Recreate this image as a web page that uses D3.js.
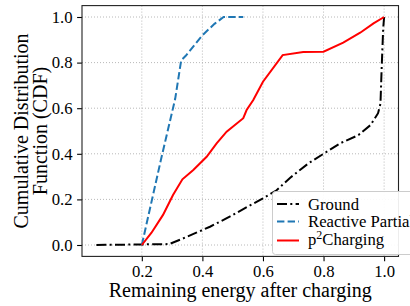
<!DOCTYPE html>
<html>
<head>
<meta charset="utf-8">
<script src="https://cdn.jsdelivr.net/npm/d3@7"></script>
<style>
html,body{margin:0;padding:0;background:#fff;}
svg{display:block;font-family:"Liberation Serif",serif;}
svg text{font-family:"Liberation Serif",serif !important;fill:#000;}
</style>
</head>
<body>
<svg id="chart" width="410" height="306"></svg>
<script>
// ---- data ----
const xTicks = [0.2, 0.4, 0.6, 0.8, 1.0];
const yTicks = [0.0, 0.2, 0.4, 0.6, 0.8, 1.0];
const seriesNames = ["Ground", "Reactive Partial", "p²Charging"];

const groundX = [0.05,0.29,0.33,0.38,0.425,0.49,0.545,0.60,0.645,0.69,0.75,0.80,0.855,0.915,0.955,0.98,0.988,0.992,0.997,1.0];
const groundY = [0.0,0.004,0.025,0.054,0.08,0.124,0.165,0.205,0.24,0.295,0.358,0.40,0.446,0.482,0.526,0.578,0.62,0.78,0.95,1.0];

const reactiveX = [0.2,0.265,0.31,0.33,0.345,0.40,0.44,0.47,0.535];
const reactiveY = [0.0,0.385,0.64,0.81,0.83,0.92,0.97,1.0,1.0];

const p2X = [0.2,0.232,0.27,0.303,0.334,0.37,0.414,0.447,0.48,0.535,0.546,0.568,0.60,0.665,0.733,0.80,0.865,0.921,0.965,1.0];
const p2Y = [0.0,0.054,0.132,0.219,0.288,0.329,0.387,0.446,0.497,0.556,0.592,0.636,0.716,0.833,0.846,0.848,0.888,0.931,0.972,1.0];

// ---- layout ----
const svg = d3.select("#chart");
const pLeft = 82, pRight = 398.5, pTop = 5.6, pBottom = 256.4;
const x = d3.scaleLinear().domain([0.0025, 1.0475]).range([pLeft, pRight]);
const y = d3.scaleLinear().domain([-0.05, 1.05]).range([pBottom, pTop]);
const SERIF = "Liberation Serif, serif";

// grid
const grid = svg.append("g");
grid.selectAll("line.vx").data(xTicks).join("line")
  .attr("x1", d => x(d)).attr("x2", d => x(d)).attr("y1", pTop).attr("y2", pBottom)
  .attr("stroke", "#b0b0b0").attr("stroke-width", 0.9).attr("stroke-dasharray", "1,2");
grid.selectAll("line.hy").data(yTicks).join("line")
  .attr("y1", d => y(d)).attr("y2", d => y(d)).attr("x1", pLeft).attr("x2", pRight)
  .attr("stroke", "#b0b0b0").attr("stroke-width", 0.9).attr("stroke-dasharray", "1,2");

// lines
const mk = (xs, ys) => xs.map((v, i) => [v, ys[i]]);
const line = d3.line().x(d => x(d[0])).y(d => y(d[1]));
const plot = svg.append("g");
plot.append("path").datum(mk(groundX, groundY)).attr("d", line)
  .attr("fill", "none").attr("stroke", "#000").attr("stroke-width", 2)
  .attr("stroke-dasharray", "10,3.3,2,3.3");
plot.append("path").datum(mk(reactiveX, reactiveY)).attr("d", line)
  .attr("fill", "none").attr("stroke", "#1f77b4").attr("stroke-width", 2)
  .attr("stroke-dasharray", "7.4,3.2");
plot.append("path").datum(mk(p2X, p2Y)).attr("d", line)
  .attr("fill", "none").attr("stroke", "#ff0000").attr("stroke-width", 2);

// axes
const fs = 16.7;
const xAxis = svg.append("g").attr("transform", `translate(0,${pBottom})`)
  .call(d3.axisBottom(x).tickValues(xTicks).tickFormat(d3.format(".1f")).tickSize(4.9).tickPadding(4));
const yAxis = svg.append("g").attr("transform", `translate(${pLeft},0)`)
  .call(d3.axisLeft(y).tickValues(yTicks).tickFormat(d3.format(".1f")).tickSize(4.9).tickPadding(4.5));
[xAxis, yAxis].forEach(a => {
  a.attr("font-family", SERIF).attr("font-size", fs);
  a.select(".domain").remove();
  a.selectAll("line").attr("stroke", "#000").attr("stroke-width", 1.1);
  a.selectAll("text").attr("font-family", SERIF).attr("font-size", fs).attr("fill", "#000");
});

// frame
svg.append("rect").attr("x", pLeft).attr("y", pTop).attr("width", pRight - pLeft).attr("height", pBottom - pTop)
  .attr("fill", "none").attr("stroke", "#222").attr("stroke-width", 1.1);

// axis labels
svg.append("text").attr("x", (pLeft + pRight) / 2).attr("y", 297).attr("text-anchor", "middle")
  .attr("font-family", SERIF).attr("font-size", 20).text("Remaining energy after charging");
const yl = svg.append("text").attr("transform", `translate(28,${(pTop + pBottom) / 2}) rotate(-90)`)
  .attr("text-anchor", "middle").attr("font-family", SERIF).attr("font-size", 20);
yl.append("tspan").attr("x", 0).attr("y", 0).text("Cumulative Distribution");
yl.append("tspan").attr("x", 0).attr("y", 19).text("Function (CDF)");

// legend
const lfs = 16.7;
const lg = svg.append("g").attr("font-family", SERIF).attr("font-size", lfs);
lg.append("rect").attr("x", 272.5).attr("y", 191.5).attr("width", 160).attr("height", 63).attr("rx", 3)
  .attr("fill", "#fff").attr("fill-opacity", 0.92).attr("stroke", "#cccccc").attr("stroke-width", 1);
const legendRows = [
  {name: seriesNames[0], color: "#000", dash: "10,3.3,2,3.3", yLine: 204, yText: 209.5},
  {name: seriesNames[1], color: "#1f77b4", dash: "7.4,3.2", yLine: 221.5, yText: 227},
  {name: seriesNames[2], color: "#ff0000", dash: null, yLine: 240.5, yText: 245}
];
legendRows.forEach((r, i) => {
  lg.append("line").attr("x1", 277).attr("x2", 299).attr("y1", r.yLine).attr("y2", r.yLine)
    .attr("stroke", r.color).attr("stroke-width", 2).attr("stroke-dasharray", r.dash);
  const t = lg.append("text").attr("x", 308).attr("y", r.yText)
    .attr("font-family", SERIF).attr("font-size", lfs);
  if (i === 2) {
    t.append("tspan").text("p");
    t.append("tspan").attr("dy", -6).attr("font-size", 12).text("2");
    t.append("tspan").attr("dy", 6).text("Charging");
  } else {
    t.text(r.name);
  }
});
</script>
</body>
</html>
